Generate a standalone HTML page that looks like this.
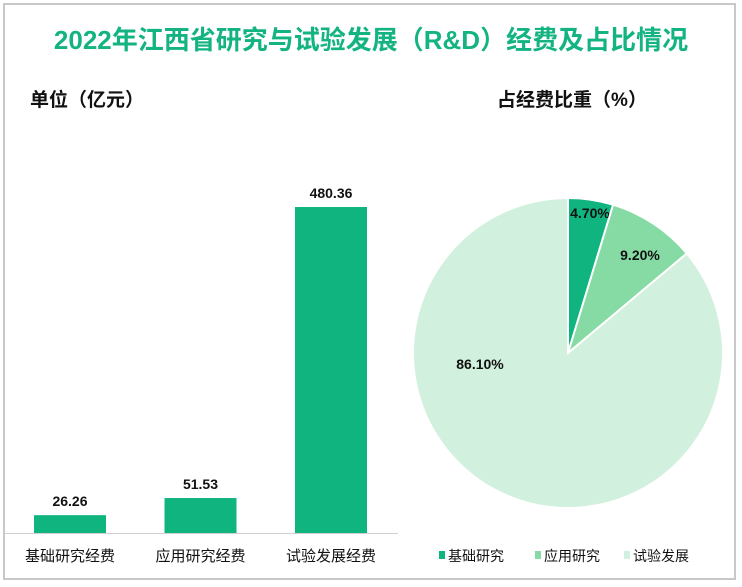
<!DOCTYPE html>
<html><head><meta charset="utf-8"><style>
html,body{margin:0;padding:0;background:#fff}
body{width:742px;height:587px;position:relative;overflow:hidden;font-family:"Liberation Sans","Noto Sans CJK SC",sans-serif}
#frame{position:absolute;left:3px;top:3px;width:733px;height:577px;border:2px solid #c8c8c8;box-sizing:border-box}
</style></head><body>
<div id="frame"></div>
<svg id="chart" width="742" height="587" style="position:absolute;left:0;top:0">
<text x="371" y="49" text-anchor="middle" font-size="26" font-weight="bold" fill="#13b382">2022年江西省研究与试验发展（R&amp;D）经费及占比情况</text>
<text x="30" y="106" font-size="19" font-weight="bold" fill="#111">单位（亿元）</text>
<text x="572" y="106" text-anchor="middle" font-size="19" font-weight="bold" fill="#111">占经费比重（%）</text>
<line x1="5" y1="533.5" x2="398" y2="533.5" stroke="#d0d0d0" stroke-width="1"/>
<g id="bars"></g><g id="pie"></g><g id="legend"></g>
</svg>
<script>
const categories = ["基础研究经费","应用研究经费","试验发展经费"];
const values = [26.26, 51.53, 480.36];
const valueLabels = ["26.26","51.53","480.36"];
const pieCategories = ["基础研究","应用研究","试验发展"];
const pieValues = [4.70, 9.20, 86.10];
const pieLabels = ["4.70%","9.20%","86.10%"];
const pieColors = ["#0fb47f","#86dba4","#d1f0dd"];
const NS="http://www.w3.org/2000/svg";
function mk(t,a,p){const e=document.createElementNS(NS,t);for(const k in a)e.setAttribute(k,a[k]);p.appendChild(e);return e;}
const baseY=533, scaleK=326/480.36;
const yScale=v=>baseY-v*scaleK;
const xCenter=i=>70+i*130.5;
const bars=document.getElementById('bars');
categories.forEach((c,i)=>{
  const y=yScale(values[i]);
  const r=mk('rect',{x:xCenter(i)-36,y:y,width:72,height:baseY-y,fill:'#0fb47f'},bars);
  
  
  const t=mk('text',{x:xCenter(i),y:y-9,'text-anchor':'middle','font-size':14,'font-weight':'bold',fill:'#111'},bars);
  t.textContent=valueLabels[i];
  
  
  const l=mk('text',{x:xCenter(i),y:561,'text-anchor':'middle','font-size':15,fill:'#111'},bars);
  l.textContent=c;
  
  
});
const pie=document.getElementById('pie');
const cx=568,cy=353,R=155;
const total=pieValues.reduce((a,b)=>a+b,0);
let acc=0;
const labelPos=[[590,213],[640,255],[480,364]];
pieValues.forEach((v,i)=>{
  const a0=acc/total*2*Math.PI; acc+=v; const a1=acc/total*2*Math.PI;
  const p=(a)=>[cx+R*Math.sin(a),cy-R*Math.cos(a)];
  const [x0,y0]=p(a0),[x1,y1]=p(a1);
  const large=(a1-a0)>Math.PI?1:0;
  const s=mk('path',{d:`M${cx},${cy}L${x0},${y0}A${R},${R} 0 ${large} 1 ${x1},${y1}Z`,fill:pieColors[i],stroke:'#fff','stroke-width':2},pie);
  
  
  const t=mk('text',{x:labelPos[i][0],y:labelPos[i][1]+5,'text-anchor':'middle','font-size':14,'font-weight':'bold',fill:'#111'},pie);
  t.textContent=pieLabels[i];
  
  
});
const lg=document.getElementById('legend');
const lx=[439,535,624];
pieCategories.forEach((c,i)=>{
  const g=mk('g',{},lg);
  
  
  mk('rect',{x:lx[i],y:551,width:6,height:8,fill:pieColors[i]},g);
  const t=mk('text',{x:lx[i]+9,y:561,'font-size':14,fill:'#111'},g);
  t.textContent=c;
});
</script>
</body></html>
